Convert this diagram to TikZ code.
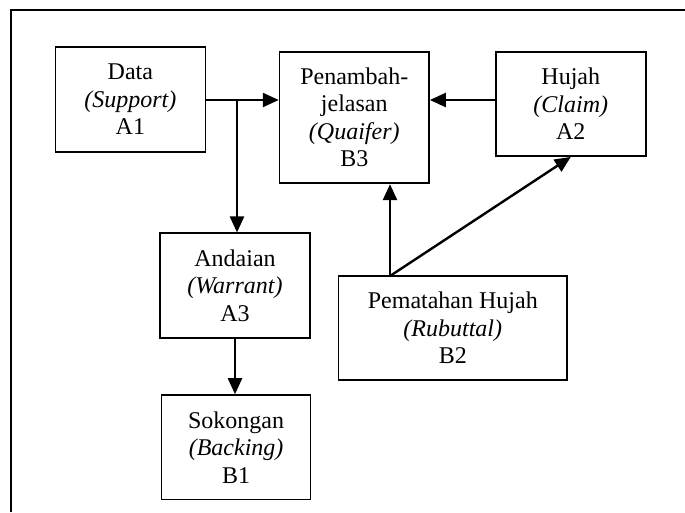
\documentclass[tikz,border=0pt]{standalone}
\usepackage{fontspec}
\setmainfont{Liberation Serif}
\usetikzlibrary{arrows.meta}
\begin{document}
\begin{tikzpicture}[x=1pt,y=-1pt,
  box/.style={draw,line width=1.7pt,inner sep=0pt,align=center,
    font=\fontsize{24}{27.5}\selectfont},
  arr/.style={line width=2.4pt,-{Triangle[length=16pt,width=14pt]}}]
\useasboundingbox (0,0) rectangle (685,512);
\draw[line width=2.2pt] (11,512) -- (11,10) -- (685,10);
\node[box,minimum width=150pt,minimum height=104.5pt] (data) at (130.4,99.5) {Data\\\textit{(Support)}\\A1};
\node[box,minimum width=149.4pt,minimum height=131.6pt] (b3) at (354.3,117.5) {Penambah-\\jelasan\\\textit{(Quaifer)}\\B3};
\node[box,minimum width=150pt,minimum height=104.3pt] (hujah) at (570.8,103.9) {Hujah\\\textit{(Claim)}\\A2};
\node[box,minimum width=149.4pt,minimum height=104.4pt] (andaian) at (235,285.5) {Andaian\\\textit{(Warrant)}\\A3};
\node[box,minimum width=228.4pt,minimum height=104pt] (pemat) at (452.8,328) {Pematahan Hujah\\\textit{(Rubuttal)}\\B2};
\node[box,minimum width=149pt,minimum height=104.3pt] (sokongan) at (236.1,447.2) {Sokongan\\\textit{(Backing)}\\B1};
\coordinate (j1) at (237,100);
\coordinate (p) at (390,276);
\draw[arr] (data.east |- j1) -- (b3.west |- j1);
\draw[arr] (j1) -- (j1 |- andaian.north);
\draw[arr] (hujah.west |- j1) -- (b3.east |- j1);
\draw[arr] (andaian.south) -- (andaian.south |- sokongan.north);
\draw[arr] (p) -- (p |- b3.south);
\draw[arr] (p) -- (hujah.south);
\end{tikzpicture}
\end{document}
